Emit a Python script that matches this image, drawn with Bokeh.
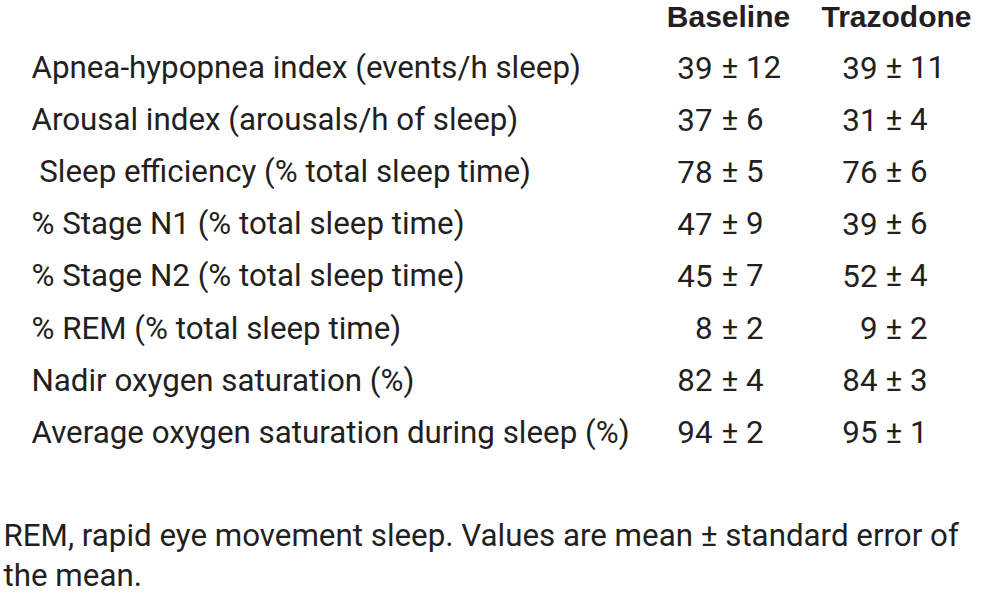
from bokeh.plotting import figure
from bokeh.models import Range1d, ColumnDataSource
from bokeh.core.properties import value
from bokeh.embed import file_html
from bokeh.resources import INLINE

# ---- data ----
columns = ["Baseline", "Trazodone"]
measures = [
    "Apnea-hypopnea index (events/h sleep)",
    "Arousal index (arousals/h of sleep)",
    "\u00a0Sleep efficiency (% total sleep time)",
    "% Stage N1 (% total sleep time)",
    "% Stage N2 (% total sleep time)",
    "% REM (% total sleep time)",
    "Nadir oxygen saturation (%)",
    "Average oxygen saturation during sleep (%)",
]
baseline_mean = [39, 37, 78, 47, 45, 8, 82, 94]
baseline_se = [12, 6, 5, 9, 7, 2, 4, 2]
trazodone_mean = [39, 31, 76, 39, 52, 9, 84, 95]
trazodone_se = [11, 4, 6, 6, 4, 2, 3, 1]
footnote = [
    "REM, rapid eye movement sleep. Values are mean \u00b1 standard error of",
    "the mean.",
]

# ---- layout (reference pixel space) ----
ROW_Y0, ROW_STEP = 78, 52.1
LABEL_X = 31
COL_MEAN_RIGHT = [712, 877]
COL_PM_LEFT = [721, 885]
HEAD_CENTER = [728, 896]
HEAD_Y = 27
FOOT_X, FOOT_Y0, FOOT_STEP = 3, 546, 40
BASELINE_FIX = 11  # svg text sits this much below the requested baseline

INK = "#231f20"
FONT = "Roboto"
BODY_SIZE = "31.3px"
HEAD_SIZE = "30px"

p = figure(width=987, height=595, output_backend="svg", toolbar_location=None,
           x_range=Range1d(0, 987),
           y_range=Range1d(595 + BASELINE_FIX, BASELINE_FIX),
           min_border=0, tools="")
p.xaxis.visible = False
p.yaxis.visible = False
p.grid.visible = False
p.outline_line_color = None
p.background_fill_color = "white"
p.border_fill_color = "white"

ys = [ROW_Y0 + i * ROW_STEP for i in range(len(measures))]

common = dict(text_baseline="alphabetic", text_color=INK)

# row labels
p.text(x=[LABEL_X] * len(measures), y=ys, text=measures,
       text_font=value(FONT), text_font_size=BODY_SIZE, text_align="left", **common)

# headers
p.text(x=HEAD_CENTER, y=[HEAD_Y] * 2, text=columns,
       text_font=value("Liberation Sans"), text_font_style="bold",
       text_font_size=HEAD_SIZE, text_align="center", **common)

# values
for ci, (means, ses) in enumerate([(baseline_mean, baseline_se), (trazodone_mean, trazodone_se)]):
    src = ColumnDataSource(dict(
        y=ys,
        m=[str(v) for v in means],
        s=["\u00b1 " + str(v) for v in ses],
    ))
    p.text(x=COL_MEAN_RIGHT[ci], y="y", text="m", source=src,
           text_font=value(FONT), text_font_size=BODY_SIZE, text_align="right", **common)
    p.text(x=COL_PM_LEFT[ci], y="y", text="s", source=src,
           text_font=value(FONT), text_font_size=BODY_SIZE, text_align="left", **common)

# footnote
p.text(x=[FOOT_X] * len(footnote), y=[FOOT_Y0 + i * FOOT_STEP for i in range(len(footnote))],
       text=footnote, text_font=value(FONT), text_font_size=BODY_SIZE,
       text_align="left", **common)

open("out.html", "w").write(file_html(p, INLINE))
